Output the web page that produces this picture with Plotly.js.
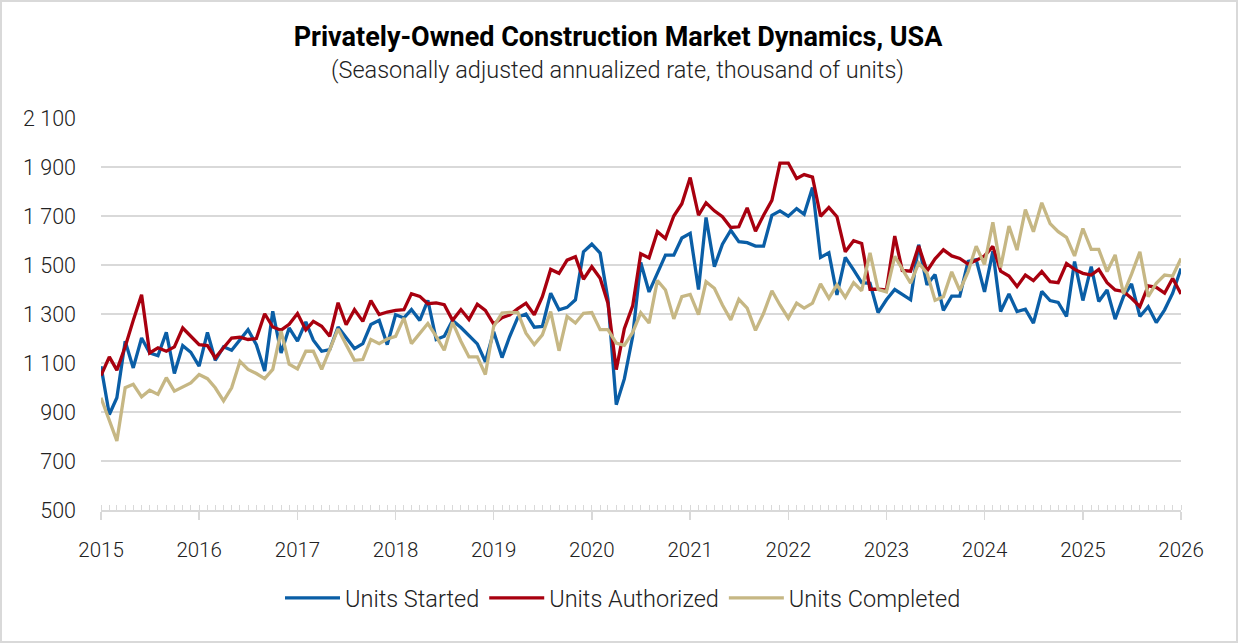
<!DOCTYPE html>
<html>
<head>
<meta charset="utf-8">
<script src="https://cdn.plot.ly/plotly-3.0.1.min.js"></script>
<style>
  html, body { margin: 0; padding: 0; background: #ffffff; }
  #wrap { position: relative; width: 1238px; height: 643px; }
  #chart { width: 1238px; height: 643px; }
  #frame { position: absolute; left: 0; top: 0; width: 1238px; height: 643px;
           box-sizing: border-box; border: 2px solid #d9d9d9; pointer-events: none; }
</style>
</head>
<body>
<div id="wrap">
  <div id="chart"></div>
  <div id="frame"></div>
</div>
<script>
// Monthly series, seasonally adjusted annualized rate (thousand units), Jan 2015 - Jan 2026
const firstMonth = { year: 2015, month: 1 };

const unitsStarted = [
  1087, 890, 958, 1189, 1080, 1202, 1141, 1130, 1225, 1057, 1171, 1144,
  1087, 1225, 1111, 1166, 1152, 1196, 1236, 1175, 1067, 1311, 1141, 1243,
  1189, 1268, 1193, 1148, 1155, 1247, 1202, 1159, 1179, 1257, 1274, 1175,
  1297, 1284, 1318, 1274, 1356, 1196, 1209, 1274, 1245, 1212, 1178, 1105,
  1228, 1122, 1207, 1287, 1300, 1246, 1249, 1385, 1317, 1327, 1358, 1554,
  1585, 1549, 1360, 930, 1035, 1208, 1510, 1390, 1463, 1540, 1540, 1610,
  1629, 1400, 1694, 1493, 1585, 1642, 1595, 1591, 1577, 1577, 1703, 1721,
  1699, 1730, 1707, 1816, 1531, 1550, 1378, 1531, 1480, 1428, 1425, 1306,
  1358, 1400, 1380, 1358, 1583, 1419, 1461, 1315, 1373, 1373, 1515, 1522,
  1390, 1556, 1310, 1382, 1310, 1320, 1263, 1392, 1355, 1347, 1290, 1514,
  1355, 1493, 1351, 1398, 1279, 1371, 1423, 1290, 1330, 1265, 1317, 1385,
  1486
];

const unitsAuthorized = [
  1049, 1125, 1071, 1166, 1274, 1379, 1141, 1162, 1148, 1166, 1243, 1209,
  1175, 1171, 1121, 1162, 1202, 1205, 1196, 1200, 1301, 1247, 1234, 1258,
  1302, 1235, 1270, 1250, 1209, 1346, 1256, 1318, 1270, 1355, 1298, 1308,
  1315, 1318, 1383, 1372, 1342, 1345, 1338, 1274, 1318, 1277, 1340, 1315,
  1259, 1285, 1296, 1322, 1344, 1297, 1371, 1482, 1466, 1520, 1534, 1442,
  1493, 1446, 1344, 1073, 1240, 1333, 1546, 1529, 1636, 1608, 1700, 1750,
  1857, 1703, 1754, 1721, 1697, 1653, 1656, 1733, 1638, 1703, 1764, 1916,
  1916, 1853, 1869, 1859, 1699, 1735, 1697, 1554, 1599, 1588, 1401, 1401,
  1398, 1618, 1478, 1475, 1578, 1475, 1525, 1562, 1537, 1527, 1504, 1519,
  1537, 1576, 1475, 1455, 1412, 1459, 1436, 1473, 1432, 1428, 1506, 1482,
  1466, 1459, 1482, 1428, 1398, 1392, 1364, 1330, 1415, 1409, 1385, 1446,
  1382
];

const unitsCompleted = [
  958, 870, 782, 999, 1013, 962, 989, 972, 1040, 985, 1003, 1019,
  1053, 1036, 999, 945, 999, 1107, 1074, 1057, 1036, 1074, 1230, 1095,
  1076, 1148, 1148, 1074, 1155, 1239, 1175, 1111, 1114, 1196, 1179, 1198,
  1209, 1284, 1179, 1223, 1261, 1209, 1152, 1266, 1189, 1125, 1125, 1053,
  1250, 1304, 1307, 1306, 1222, 1175, 1215, 1310, 1150, 1290, 1263, 1303,
  1306, 1236, 1236, 1181, 1172, 1225, 1305, 1263, 1437, 1398, 1280, 1371,
  1380, 1297, 1432, 1405, 1337, 1276, 1360, 1324, 1233, 1303, 1395, 1337,
  1283, 1344, 1324, 1344, 1423, 1364, 1419, 1368, 1428, 1395, 1550, 1400,
  1390, 1535, 1482, 1426, 1508, 1467, 1356, 1370, 1472, 1396, 1473, 1577,
  1502, 1674, 1490, 1659, 1561, 1726, 1636, 1754, 1669, 1636, 1613, 1537,
  1649, 1564, 1564, 1473, 1541, 1382, 1463, 1554, 1371, 1425, 1459, 1455,
  1527
];

const seriesNames = ['Units Started', 'Units Authorized', 'Units Completed'];
const seriesColors = ['#0a5ea6', '#a8000f', '#c6b784'];

const chartTitle = 'Privately-Owned Construction Market Dynamics, USA';
const chartSubtitle = '(Seasonally adjusted annualized rate, thousand of units)';

// month-start dates for the x axis
function monthDates(start, count) {
  const out = [];
  for (let k = 0; k < count; k++) {
    const m0 = start.month - 1 + k;
    const y = start.year + Math.floor(m0 / 12);
    const m = (m0 % 12) + 1;
    out.push(y + '-' + String(m).padStart(2, '0') + '-01');
  }
  return out;
}
const months = monthDates(firstMonth, unitsStarted.length);

const values = [unitsStarted, unitsAuthorized, unitsCompleted];
const traces = values.map((v, k) => ({
  type: 'scatter',
  mode: 'lines',
  name: seriesNames[k],
  x: months,
  y: v,
  line: { color: seriesColors[k], width: 3.3 }
}));

const FONT = 'Roboto, "Open Sans", sans-serif';
const INK = '#222222';

const layout = {
  width: 1238,
  height: 643,
  paper_bgcolor: '#ffffff',
  plot_bgcolor: '#ffffff',
  separators: '. ',
  font: { family: FONT, size: 20, color: INK, weight: 300 },
  margin: { l: 101, r: 57, t: 118, b: 133 },
  title: {
    text: '<b>' + chartTitle + '</b>',
    font: { family: FONT, size: 27, color: '#000000', weight: 700 },
    x: 618 / 1238, xanchor: 'center', xref: 'container',
    y: 1 - 37 / 643, yanchor: 'middle', yref: 'container'
  },
  annotations: [{
    text: chartSubtitle,
    xref: 'paper', yref: 'paper',
    x: (617 - 101) / 1080, xanchor: 'center',
    y: (510 - 70) / 392, yanchor: 'middle',
    showarrow: false,
    font: { family: FONT, size: 23.5, color: INK, weight: 300 }
  }],
  xaxis: {
    type: 'date',
    range: ['2015-01-01', '2026-01-01'],
    dtick: 'M12',
    tick0: '2015-01-01',
    tickformat: '%Y',
    showgrid: false,
    zeroline: false,
    showline: true,
    linecolor: '#d9d9d9',
    linewidth: 2,
    ticks: 'outside',
    ticklen: 8,
    tickwidth: 1.5,
    tickcolor: '#d9d9d9',
    ticklabelstandoff: 12,
    tickfont: { family: FONT, size: 20.5, color: INK, weight: 300 },
    minor: { dtick: 'M1', ticks: 'inside', ticklen: 5, tickwidth: 1, tickcolor: '#d9d9d9', showgrid: false }
  },
  yaxis: {
    range: [500, 2100],
    dtick: 200,
    tick0: 500,
    tickformat: ',d',
    showgrid: true,
    gridcolor: '#d9d9d9',
    gridwidth: 1.6,
    zeroline: false,
    showline: false,
    ticks: '',
    ticklabelstandoff: 24,
    tickfont: { family: FONT, size: 21.5, color: INK, weight: 300 }
  },
  showlegend: true,
  legend: {
    orientation: 'h',
    xref: 'container', yref: 'container',
    x: 623 / 1238, xanchor: 'center',
    y: 1 - 598 / 643, yanchor: 'middle',
    itemwidth: 55,
    font: { family: FONT, size: 23.5, color: INK, weight: 300 },
    bgcolor: 'rgba(0,0,0,0)'
  }
};

Plotly.newPlot('chart', traces, layout, { staticPlot: true, displayModeBar: false });
</script>
</body>
</html>
